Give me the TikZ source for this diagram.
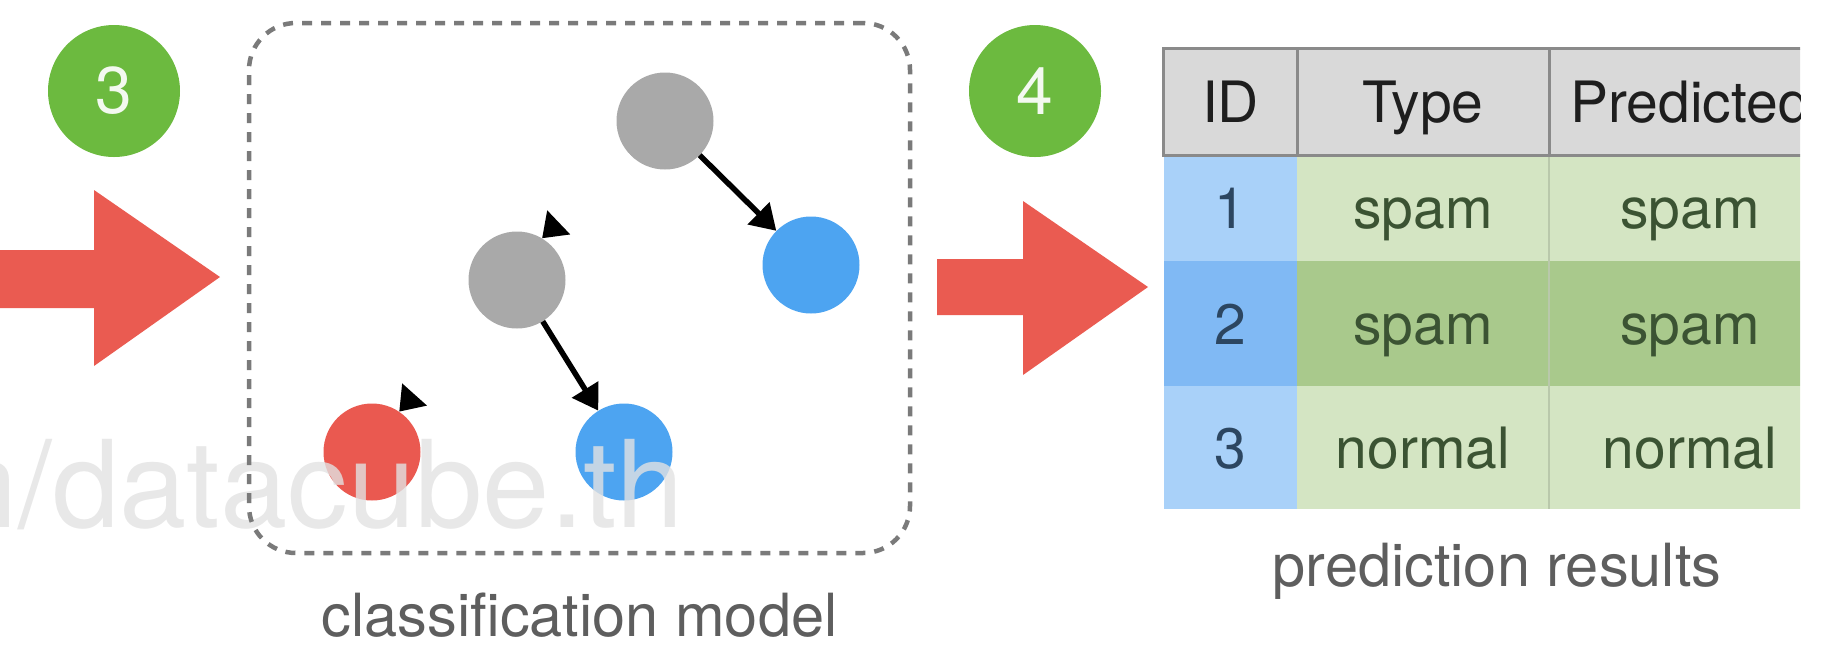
\documentclass[tikz,border=0pt]{standalone}
\usepackage{fontspec}
\setmainfont{TeX Gyre Heros}
\usetikzlibrary{arrows.meta}

\definecolor{stepgreen}{HTML}{6CBA3F}
\definecolor{arrowred}{HTML}{EA5B51}
\definecolor{nodegray}{HTML}{A9A9A9}
\definecolor{nodeblue}{HTML}{4DA4F1}
\definecolor{nodered}{HTML}{EA5950}
\definecolor{boxgray}{HTML}{7A7A7A}
\definecolor{captiongray}{HTML}{5E5E5E}
\definecolor{markgray}{HTML}{E2E2E2}
\definecolor{headfill}{HTML}{D9D9D9}
\definecolor{headline}{HTML}{8A8A8A}
\definecolor{idlight}{HTML}{A9D1F9}
\definecolor{iddark}{HTML}{80B9F4}
\definecolor{bodylight}{HTML}{D4E5C3}
\definecolor{bodydark}{HTML}{A9C98C}
\definecolor{bodyline}{HTML}{B9C8AB}
\definecolor{bodytext}{HTML}{3B5333}
\definecolor{idtext}{HTML}{2C4661}
\definecolor{headtext}{HTML}{1E1E1E}

\tikzset{
  stepnum/.style={circle, fill=stepgreen, minimum size=132pt, inner sep=0pt,
    text=white!92!stepgreen, font=\fontsize{66pt}{74pt}\selectfont},
  treenode/.style={circle, minimum size=97pt, inner sep=0pt},
  treeedge/.style={line width=5.5pt, black,
    -{Triangle[length=25pt, width=30pt]}},
  hiddenedge/.style={line width=5pt, white,
    -{Triangle[length=23pt, width=32pt, color=black]}},
  blockarrow/.style={fill=arrowred},
  caption/.style={anchor=base, inner sep=0pt, text=captiongray,
    font=\fontsize{59.5pt}{68pt}\selectfont},
  cell/.style={inner sep=0pt, text height=41pt, text depth=0pt,
    font=\fontsize{57pt}{68pt}\selectfont},
}

\begin{document}
\begin{tikzpicture}[x=1pt, y=-1pt]
\useasboundingbox (0,0) rectangle (1825,649);

% step markers
\node[stepnum] (s3) at (114,91) {3};
\node[stepnum] (s4) at (1035,91) {4};

% block arrows
\fill[blockarrow] (-5,250) -- (94,250) -- (94,190) -- (220,277)
  -- (94,366) -- (94,308) -- (-5,308) -- cycle;
\fill[blockarrow] (937,259) -- (1023,259) -- (1023,201) -- (1148,287)
  -- (1023,375) -- (1023,315) -- (937,315) -- cycle;

% decision tree
\node[treenode, fill=nodegray] (gtop) at (665,121) {};
\node[treenode, fill=nodeblue] (bright) at (811,265) {};
\node[treenode, fill=nodegray] (gmid) at (517,280) {};
\node[treenode, fill=nodered] (rleaf) at (372,452) {};
\node[treenode, fill=nodeblue] (bleaf) at (624,452) {};

\draw[hiddenedge] (gtop) -- (gmid.59);
\draw[hiddenedge] (gmid) -- (rleaf.56);
\draw[treeedge] (gtop) -- (bright);
\draw[treeedge] (gmid) -- (bleaf);

% watermark
\begin{scope}
\clip (0,0) rectangle (1825,649);
\node[anchor=base west, inner sep=0pt, text=markgray, opacity=0.8,
  font=\fontsize{121pt}{130pt}\selectfont] (mark) at (-210,527) {com/datacube.th};
\end{scope}

% model frame
\node[draw=boxgray, line width=4.5pt, dash pattern=on 10pt off 9pt,
  rounded corners=47pt, minimum width=661pt, minimum height=530pt,
  inner sep=0pt] (model) at (579.5,288) {};
\node[caption] (modelcap) at (579.5,636) {classification model};

% prediction table
\begin{scope}
\clip (1150,30) rectangle (1800,520);
% header
\node[cell, fill=headfill, text=headtext, minimum width=133pt, minimum height=106pt] (h1) at (1230.5,102) {ID};
\node[cell, fill=headfill, text=headtext, minimum width=252pt, minimum height=106pt] (h2) at (1423,102) {Type};
\node[cell, fill=headfill, text=headtext, minimum width=282pt, minimum height=106pt] (h3) at (1690,102) {Predicted};
% row 1
\node[cell, fill=idlight, text=idtext, minimum width=133pt, minimum height=106pt] (r1c1) at (1230.5,208) {1};
\node[cell, fill=bodylight, text=bodytext, minimum width=252pt, minimum height=106pt] (r1c2) at (1423,208) {spam};
\node[cell, fill=bodylight, text=bodytext, minimum width=282pt, minimum height=106pt] (r1c3) at (1690,208) {spam};
% row 2
\node[cell, fill=iddark, text=idtext, minimum width=133pt, minimum height=125pt] (r2c1) at (1230.5,323.5) {2};
\node[cell, fill=bodydark, text=bodytext, minimum width=252pt, minimum height=125pt] (r2c2) at (1423,323.5) {spam};
\node[cell, fill=bodydark, text=bodytext, minimum width=282pt, minimum height=125pt] (r2c3) at (1690,323.5) {spam};
% row 3
\node[cell, fill=idlight, text=idtext, minimum width=133pt, minimum height=123pt] (r3c1) at (1230.5,447.5) {3};
\node[cell, fill=bodylight, text=bodytext, minimum width=252pt, minimum height=123pt] (r3c2) at (1423,447.5) {normal};
\node[cell, fill=bodylight, text=bodytext, minimum width=282pt, minimum height=123pt] (r3c3) at (1690,447.5) {normal};
% grid
\draw[bodyline, line width=1.5pt] (r1c3.north west) -- (r3c3.south west);
\draw[headline, line width=3pt] (h3.north east) -- (h1.north west)
  -- (h1.south west) -- (h3.south east);
\draw[headline, line width=3pt] (h1.north east) -- (h1.south east);
\draw[headline, line width=3pt] (h2.north east) -- (h2.south east);
\end{scope}
\node[caption] (tablecap) at (1497,586) {prediction results};
\end{tikzpicture}
\end{document}
